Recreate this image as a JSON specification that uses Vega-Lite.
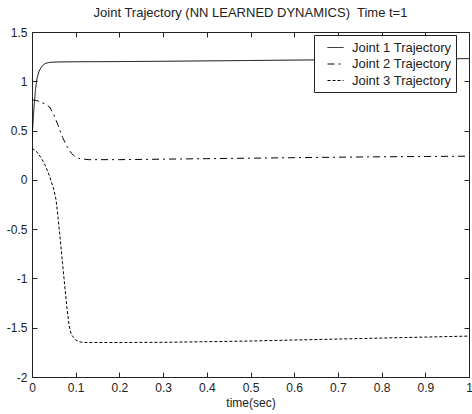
{
  "$schema": "https://vega.github.io/schema/vega-lite/v6.json",
  "autosize": {"type": "none"},
  "width": 437,
  "height": 345,
  "padding": {"left": 32, "top": 32, "right": 3, "bottom": 37},
  "background": "white",
  "title": {
    "text": "Joint Trajectory (NN LEARNED DYNAMICS)\u00a0 Time t=1",
    "font": "Liberation Sans",
    "fontSize": 13,
    "fontWeight": "normal",
    "color": "#222",
    "anchor": "middle",
    "offset": 6
  },
  "config": {
    "view": {"stroke": "#222", "strokeWidth": 1},
    "axis": {
      "labelFont": "Liberation Sans",
      "titleFont": "Liberation Sans",
      "labelFontSize": 12,
      "titleFontSize": 12,
      "titleFontWeight": "normal",
      "labelColor": "#222",
      "titleColor": "#222",
      "tickColor": "#222",
      "domain": false,
      "grid": false,
      "tickSize": -5
    }
  },
  "data": {
    "values": [
      {"t": 0, "v": 0.42, "s": "Joint 1 Trajectory"},
      {"t": 0.004, "v": 0.7, "s": "Joint 1 Trajectory"},
      {"t": 0.008, "v": 0.92, "s": "Joint 1 Trajectory"},
      {"t": 0.012, "v": 1.04, "s": "Joint 1 Trajectory"},
      {"t": 0.016, "v": 1.1, "s": "Joint 1 Trajectory"},
      {"t": 0.022, "v": 1.15, "s": "Joint 1 Trajectory"},
      {"t": 0.03, "v": 1.18, "s": "Joint 1 Trajectory"},
      {"t": 0.04, "v": 1.192, "s": "Joint 1 Trajectory"},
      {"t": 0.06, "v": 1.196, "s": "Joint 1 Trajectory"},
      {"t": 0.1, "v": 1.198, "s": "Joint 1 Trajectory"},
      {"t": 0.2, "v": 1.2, "s": "Joint 1 Trajectory"},
      {"t": 0.3, "v": 1.203, "s": "Joint 1 Trajectory"},
      {"t": 0.4, "v": 1.207, "s": "Joint 1 Trajectory"},
      {"t": 0.5, "v": 1.211, "s": "Joint 1 Trajectory"},
      {"t": 0.6, "v": 1.215, "s": "Joint 1 Trajectory"},
      {"t": 0.7, "v": 1.219, "s": "Joint 1 Trajectory"},
      {"t": 0.8, "v": 1.223, "s": "Joint 1 Trajectory"},
      {"t": 0.9, "v": 1.227, "s": "Joint 1 Trajectory"},
      {"t": 1.0, "v": 1.23, "s": "Joint 1 Trajectory"},

      {"t": 0, "v": 0.81, "s": "Joint 2 Trajectory"},
      {"t": 0.01, "v": 0.805, "s": "Joint 2 Trajectory"},
      {"t": 0.02, "v": 0.79, "s": "Joint 2 Trajectory"},
      {"t": 0.03, "v": 0.77, "s": "Joint 2 Trajectory"},
      {"t": 0.04, "v": 0.74, "s": "Joint 2 Trajectory"},
      {"t": 0.05, "v": 0.66, "s": "Joint 2 Trajectory"},
      {"t": 0.06, "v": 0.55, "s": "Joint 2 Trajectory"},
      {"t": 0.07, "v": 0.43, "s": "Joint 2 Trajectory"},
      {"t": 0.08, "v": 0.34, "s": "Joint 2 Trajectory"},
      {"t": 0.09, "v": 0.27, "s": "Joint 2 Trajectory"},
      {"t": 0.1, "v": 0.23, "s": "Joint 2 Trajectory"},
      {"t": 0.11, "v": 0.215, "s": "Joint 2 Trajectory"},
      {"t": 0.13, "v": 0.205, "s": "Joint 2 Trajectory"},
      {"t": 0.2, "v": 0.205, "s": "Joint 2 Trajectory"},
      {"t": 0.3, "v": 0.21, "s": "Joint 2 Trajectory"},
      {"t": 0.4, "v": 0.215, "s": "Joint 2 Trajectory"},
      {"t": 0.5, "v": 0.22, "s": "Joint 2 Trajectory"},
      {"t": 0.6, "v": 0.225, "s": "Joint 2 Trajectory"},
      {"t": 0.7, "v": 0.23, "s": "Joint 2 Trajectory"},
      {"t": 0.8, "v": 0.234, "s": "Joint 2 Trajectory"},
      {"t": 0.9, "v": 0.237, "s": "Joint 2 Trajectory"},
      {"t": 1.0, "v": 0.24, "s": "Joint 2 Trajectory"},

      {"t": 0, "v": 0.32, "s": "Joint 3 Trajectory"},
      {"t": 0.01, "v": 0.29, "s": "Joint 3 Trajectory"},
      {"t": 0.02, "v": 0.23, "s": "Joint 3 Trajectory"},
      {"t": 0.03, "v": 0.15, "s": "Joint 3 Trajectory"},
      {"t": 0.04, "v": 0.04, "s": "Joint 3 Trajectory"},
      {"t": 0.045, "v": -0.03, "s": "Joint 3 Trajectory"},
      {"t": 0.05, "v": -0.1, "s": "Joint 3 Trajectory"},
      {"t": 0.055, "v": -0.2, "s": "Joint 3 Trajectory"},
      {"t": 0.06, "v": -0.4, "s": "Joint 3 Trajectory"},
      {"t": 0.065, "v": -0.62, "s": "Joint 3 Trajectory"},
      {"t": 0.07, "v": -0.85, "s": "Joint 3 Trajectory"},
      {"t": 0.075, "v": -1.08, "s": "Joint 3 Trajectory"},
      {"t": 0.08, "v": -1.3, "s": "Joint 3 Trajectory"},
      {"t": 0.085, "v": -1.48, "s": "Joint 3 Trajectory"},
      {"t": 0.09, "v": -1.57, "s": "Joint 3 Trajectory"},
      {"t": 0.1, "v": -1.625, "s": "Joint 3 Trajectory"},
      {"t": 0.11, "v": -1.645, "s": "Joint 3 Trajectory"},
      {"t": 0.12, "v": -1.65, "s": "Joint 3 Trajectory"},
      {"t": 0.2, "v": -1.65, "s": "Joint 3 Trajectory"},
      {"t": 0.3, "v": -1.648, "s": "Joint 3 Trajectory"},
      {"t": 0.4, "v": -1.642, "s": "Joint 3 Trajectory"},
      {"t": 0.5, "v": -1.635, "s": "Joint 3 Trajectory"},
      {"t": 0.6, "v": -1.625, "s": "Joint 3 Trajectory"},
      {"t": 0.7, "v": -1.615, "s": "Joint 3 Trajectory"},
      {"t": 0.8, "v": -1.605, "s": "Joint 3 Trajectory"},
      {"t": 0.9, "v": -1.595, "s": "Joint 3 Trajectory"},
      {"t": 1.0, "v": -1.585, "s": "Joint 3 Trajectory"}
    ]
  },
  "layer": [
    {
      "mark": {"type": "line", "stroke": "black", "strokeWidth": 1, "clip": true},
      "encoding": {
        "x": {
          "field": "t", "type": "quantitative",
          "scale": {"domain": [0, 1], "nice": false, "zero": false},
          "axis": {
            "orient": "bottom",
            "values": [0, 0.1, 0.2, 0.3, 0.4, 0.5, 0.6, 0.7, 0.8, 0.9, 1],
            "labelExpr": "'' + datum.value",
            "labelPadding": 10,
            "title": "time(sec)",
            "titlePadding": 4,
            "labelFlush": false
          }
        },
        "y": {
          "field": "v", "type": "quantitative",
          "scale": {"domain": [-2, 1.5], "nice": false, "zero": false},
          "axis": {
            "orient": "left",
            "values": [-2, -1.5, -1, -0.5, 0, 0.5, 1, 1.5],
            "labelExpr": "'' + datum.value",
            "labelPadding": 10,
            "title": null,
            "labelFlush": false
          }
        },
        "strokeDash": {
          "field": "s", "type": "nominal",
          "scale": {
            "domain": ["Joint 1 Trajectory", "Joint 2 Trajectory", "Joint 3 Trajectory"],
            "range": [[1, 0], [7, 4, 2, 4], [3, 2]]
          },
          "legend": {
            "title": null,
            "orient": "none",
            "legendX": 282,
            "legendY": 3,
            "strokeColor": "#222",
            "fillColor": "white",
            "padding": 4,
            "symbolOffset": 9,
            "symbolType": "stroke",
            "symbolSize": 256,
            "symbolStrokeColor": "black",
            "symbolStrokeWidth": 1,
            "labelFont": "Liberation Sans",
            "labelFontSize": 13,
            "labelColor": "#222",
            "labelOffset": 8,
            "rowPadding": 0.5,
            "cornerRadius": 0
          }
        }
      }
    },
    {
      "mark": {"type": "point", "opacity": 0},
      "encoding": {
        "x": {
          "field": "t", "type": "quantitative",
          "axis": {
            "orient": "top",
            "values": [0, 0.1, 0.2, 0.3, 0.4, 0.5, 0.6, 0.7, 0.8, 0.9, 1],
            "labels": false,
            "title": null
          }
        },
        "y": {
          "field": "v", "type": "quantitative",
          "axis": {
            "orient": "right",
            "values": [-2, -1.5, -1, -0.5, 0, 0.5, 1, 1.5],
            "labels": false,
            "title": null
          }
        }
      }
    }
  ],
  "resolve": {"axis": {"x": "independent", "y": "independent"}}
}
